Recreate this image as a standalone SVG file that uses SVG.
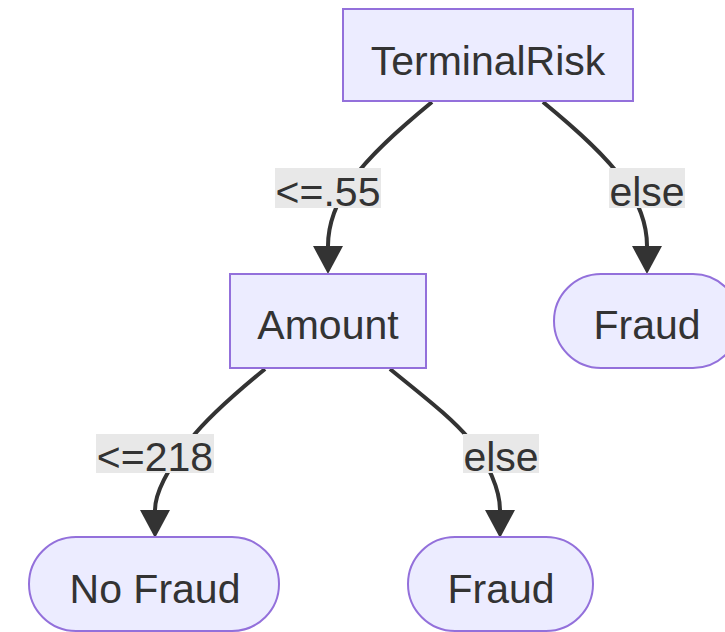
<svg xmlns="http://www.w3.org/2000/svg" width="725" height="632" viewBox="0 0 725 632">
<style>
.node{fill:#ECECFF;stroke:#9370DB;stroke-width:2}
.t{font-family:"Liberation Sans",Arial,sans-serif;font-size:41px;fill:#333333;text-anchor:middle}
.edge{fill:none;stroke:#333333;stroke-width:4}
.lbg{fill:#e8e8e8}
</style>
<defs>
<marker id="arrow" viewBox="0 0 28 30" refX="0" refY="15" markerWidth="28" markerHeight="30" markerUnits="userSpaceOnUse" orient="auto">
<path d="M0,0 L28,15 L0,30 z" fill="#333333"/>
</marker>
</defs>
<rect width="725" height="632" fill="#ffffff"/>
<g id="connectors">
<path class="edge" d="M432,102 C398,130 370,155 352,180 S328,226 328,246" marker-end="url(#arrow)"/>
<path class="edge" d="M543,102 C577,130 605,155 623,180 S647,226 647,246" marker-end="url(#arrow)"/>
<path class="edge" d="M265,369 C232,396 207,418 190,440 S155,490 155,510" marker-end="url(#arrow)"/>
<path class="edge" d="M390,369 C423,396 452,418 470,440 S500,490 500,510" marker-end="url(#arrow)"/>
<g id="edge-labels">
<rect class="lbg" x="275" y="168" width="106" height="40"/>
<text class="t" x="328" y="206">&lt;=.55</text>
<rect class="lbg" x="609" y="168" width="76" height="40"/>
<text class="t" x="647" y="206">else</text>
<rect class="lbg" x="96" y="434" width="118" height="39"/>
<text class="t" x="155" y="471">&lt;=218</text>
<rect class="lbg" x="463" y="434" width="76" height="39"/>
<text class="t" x="501" y="471">else</text>
</g>
</g>
<g id="node-terminalrisk">
<rect class="node" x="343" y="9" width="290" height="92"/>
<text class="t" x="488" y="75">TerminalRisk</text>
</g>
<g id="node-amount">
<rect class="node" x="230" y="274" width="196" height="94"/>
<text class="t" x="328" y="339">Amount</text>
</g>
<g id="node-fraud-right">
<rect class="node" x="554" y="274" width="186" height="94" rx="47" ry="47"/>
<text class="t" x="647" y="339">Fraud</text>
</g>
<g id="node-nofraud">
<rect class="node" x="29" y="537" width="250" height="94" rx="47" ry="47"/>
<text class="t" x="155" y="603">No Fraud</text>
</g>
<g id="node-fraud-bottom">
<rect class="node" x="408" y="537" width="185" height="94" rx="47" ry="47"/>
<text class="t" x="501" y="603">Fraud</text>
</g>
</svg>
